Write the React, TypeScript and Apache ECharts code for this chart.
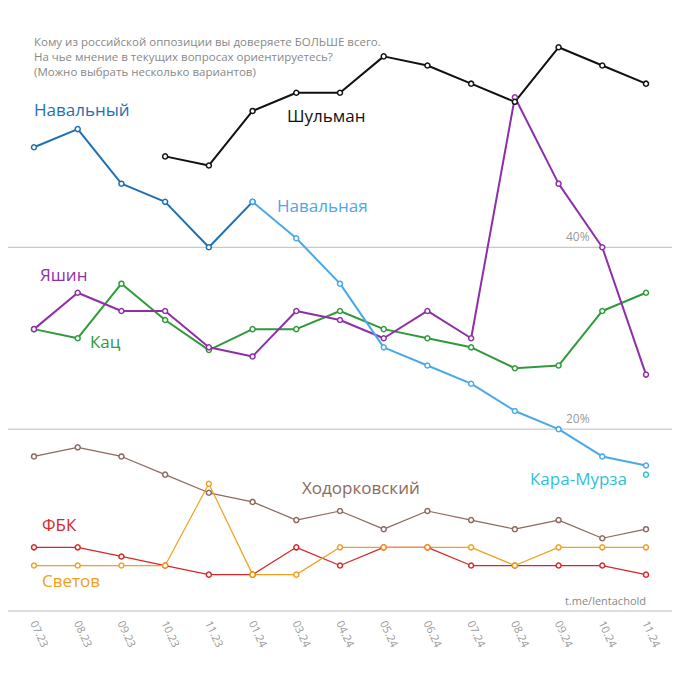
import React, { useEffect, useRef } from "react";
import * as echarts from "echarts";

const months = ["07.23", "08.23", "09.23", "10.23", "11.23", "01.24", "03.24", "04.24", "05.24", "06.24", "07.24", "08.24", "09.24", "10.24", "11.24"];
const navalny = [51, 53, 47, 45, 40, 45, null, null, null, null, null, null, null, null, null];
const navalnaya = [null, null, null, null, null, 45, 41, 36, 29, 27, 25, 22, 20, 17, 16];
const shulman = [null, null, null, 50, 49, 55, 57, 57, 61, 60, 58, 56, 62, 60, 58];
const yashin = [31, 35, 33, 33, 29, 28, 33, 32, 30, 33, 30, 56.5, 47, 40, 26];
const kats = [31, 30, 36, 32, 28.7, 31, 31, 33, 31, 30, 29, 26.7, 27, 33, 35];
const khodorkovsky = [17, 18, 17, 15, 13, 12, 10, 11, 9, 11, 10, 9, 10, 8, 9];
const fbk = [7, 7, 6, 5, 4, 4, 7, 5, 7, 7, 5, 5, 5, 5, 4];
const svetov = [5, 5, 5, 5, 14, 4, 4, 7, 7, 7, 7, 5, 7, 7, 7];
const karaMurza = [null, null, null, null, null, null, null, null, null, null, null, null, null, null, 15];
const gridValues = [20, 40];
const titleLines = [
    "Кому из российской оппозиции вы доверяете БОЛЬШЕ всего.",
    "На чье мнение в текущих вопросах ориентируетесь?",
    "(Можно выбрать несколько вариантов)",
];

const font = "'Open Sans', sans-serif";

const App = () => {
    const chartRef = useRef(null);

    useEffect(() => {
        const chart = echarts.init(chartRef.current, null, { renderer: "svg" });

        const line = (name: string, data: (number | null)[], color: string, width = 2) => ({
            name,
            type: "line",
            data,
            clip: false,
            symbol: "circle",
            symbolSize: 5,
            itemStyle: { color: "#fff", borderColor: color, borderWidth: 1.5 },
            lineStyle: { color, width },
        });

        const label = (text: string, x: number, y: number, fill: string) => ({
            type: "text",
            left: x,
            top: y,
            style: { text, fill, fontSize: 17, fontFamily: font },
        });

        chart.setOption({
            animation: false,
            backgroundColor: "#fff",
            grid: { left: 34, right: 34, top: 20, bottom: 69 },
            xAxis: {
                type: "category",
                data: months,
                boundaryGap: false,
                axisLine: { show: false },
                axisTick: { show: false },
                axisLabel: { color: "#999", rotate: -65, fontSize: 11, fontFamily: font, margin: 10 },
            },
            yAxis: {
                type: "value",
                min: 0,
                max: 65,
                show: false,
            },
            series: [
                line("Ходорковский", khodorkovsky, "#8c6a5e", 1.2),
                line("ФБК", fbk, "#d62728", 1.2),
                line("Светов", svetov, "#f0a020", 1.2),
                line("Кац", kats, "#2e9a3a"),
                line("Яшин", yashin, "#8e2fa8"),
                line("Навальный", navalny, "#1f6fb5"),
                line("Навальная", navalnaya, "#4aa8e8"),
                line("Шульман", shulman, "#111111"),
                line("Кара-Мурза", karaMurza, "#2fc0d8"),
            ],
        });

        const gridLines: any[] = gridValues.flatMap((v) => {
            const y = chart.convertToPixel({ yAxisIndex: 0 }, v);
            return [
                { type: "line", z: -1, shape: { x1: 0, y1: y, x2: 680, y2: y }, style: { stroke: "#bbb", lineWidth: 1 } },
                { type: "text", left: 566, top: y - 17, style: { text: v + "%", fill: "#999", fontSize: 12, fontFamily: font } },
            ];
        });
        const y0 = chart.convertToPixel({ yAxisIndex: 0 }, 0);

        chart.setOption({
            graphic: [
                ...gridLines,
                { type: "line", shape: { x1: 0, y1: y0, x2: 680, y2: y0 }, style: { stroke: "#bbb", lineWidth: 1 } },
                ...titleLines.map((t, i) => ({
                    type: "text",
                    left: 34,
                    top: 35 + i * 15,
                    style: { text: t, fill: "#888", fontSize: 11.5, fontFamily: font },
                })),
                { type: "text", right: 34, top: y0 - 16, style: { text: "t.me/lentachold", fill: "#888", fontSize: 11, fontFamily: font } },
                label("Навальный", 34, 101, "#1f6fb5"),
                label("Шульман", 287, 107, "#111111"),
                label("Навальная", 277, 197, "#4aa8e8"),
                label("Яшин", 40, 266, "#8e2fa8"),
                label("Кац", 90, 333, "#2e9a3a"),
                label("Ходорковский", 302, 479, "#8c6a5e"),
                label("Кара-Мурза", 530, 470, "#2fc0d8"),
                label("ФБК", 42, 516, "#d62728"),
                label("Светов", 42, 572, "#f0a020"),
            ],
        });

        return () => chart.dispose();
    }, []);

    return <div ref={chartRef} style={{ width: 680, height: 680, margin: -8 }} />;
};

export default App;
